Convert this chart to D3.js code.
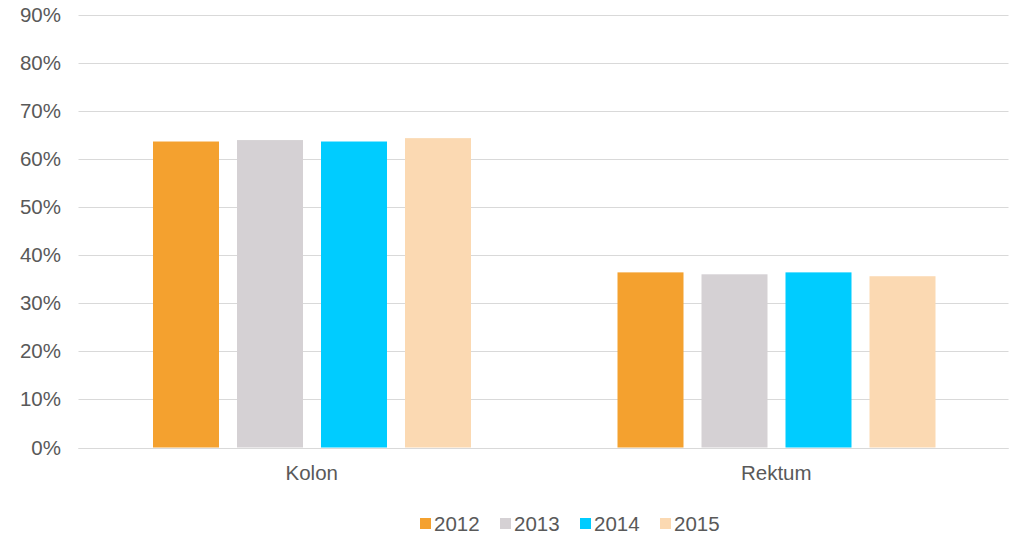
<!DOCTYPE html>
<html><head><meta charset="utf-8">
<script src="https://cdn.jsdelivr.net/npm/d3@7"></script>
<style>body{margin:0;background:#fff}svg{display:block}text{font-family:"Liberation Sans",Arial,sans-serif;fill:#595959}</style>
</head><body><svg id="c" width="1017" height="538"></svg>
<script>
const categories = ["Kolon", "Rektum"];
const years = ["2012", "2013", "2014", "2015"];
const values2012 = [63.6, 36.4];
const values2013 = [63.9, 36.0];
const values2014 = [63.6, 36.4];
const values2015 = [64.3, 35.6];
const yTicks = [0, 10, 20, 30, 40, 50, 60, 70, 80, 90];
const colors = ["#F4A12F", "#D5D1D4", "#00CCFF", "#FBD9B2"];

const series = [values2012, values2013, values2014, values2015];
const svg = d3.select("#c");
const L = 78.5, R = 1008.5, T = 14.5, B = 447.5;
const y = d3.scaleLinear().domain([0, 90]).range([B, T]);
const x0 = d3.scaleBand().domain(categories).range([L + 1, R]).padding(0);
const outer = 73.5;
const x1 = d3.scaleBand().domain(years).range([outer, outer + 318]).paddingInner(18/84).paddingOuter(0);
const FS = "20.5px";

// gridlines
svg.append("g").selectAll("line").data(yTicks).join("line")
  .attr("x1", L).attr("x2", R)
  .attr("y1", d => Math.round(y(d)) + 0.5).attr("y2", d => Math.round(y(d)) + 0.5)
  .attr("stroke", "#D9D9D9").attr("stroke-width", 1);

// y axis labels
const yAxis = d3.axisLeft(y).tickValues(yTicks).tickFormat(d => d + "%").tickSize(0).tickPadding(0);
const ga = svg.append("g").attr("transform", `translate(61,0)`).call(yAxis);
ga.select(".domain").remove();
ga.selectAll("text").style("font-size", FS).attr("fill", "#595959").style("font-family", '"Liberation Sans",Arial,sans-serif');

// bars
const groups = svg.append("g").selectAll("g").data(categories).join("g")
  .attr("transform", d => `translate(${x0(d)},0)`);
groups.selectAll("rect").data((c, ci) => years.map((yr, i) => ({yr, i, v: series[i][ci]}))).join("rect")
  .attr("x", d => x1(d.yr)).attr("width", x1.bandwidth())
  .attr("y", d => y(d.v)).attr("height", d => y(0) - y(d.v))
  .attr("fill", d => colors[d.i]);

// baseline
svg.append("line").attr("x1", L).attr("x2", R).attr("y1", Math.round(y(0)) + 0.5).attr("y2", Math.round(y(0)) + 0.5)
  .attr("stroke", "#D9D9D9").attr("stroke-width", 1);

// category labels
const xAxis = d3.axisBottom(x0).tickSize(0).tickPadding(0);
const gx = svg.append("g").attr("transform", `translate(0,465)`).call(xAxis);
gx.select(".domain").remove();
gx.selectAll("text").style("font-size", FS).attr("fill", "#595959").attr("dy", "0.71em").style("font-family", '"Liberation Sans",Arial,sans-serif');

// legend
const lg = svg.append("g").selectAll("g").data(years).join("g")
  .attr("transform", (d, i) => `translate(${420 + i * 80},0)`);
lg.append("rect").attr("x", 0).attr("y", 518).attr("width", 11).attr("height", 11).attr("fill", (d, i) => colors[i]);
lg.append("text").attr("x", 14).attr("y", 531).style("font-size", FS).text(d => d);
</script></body></html>
